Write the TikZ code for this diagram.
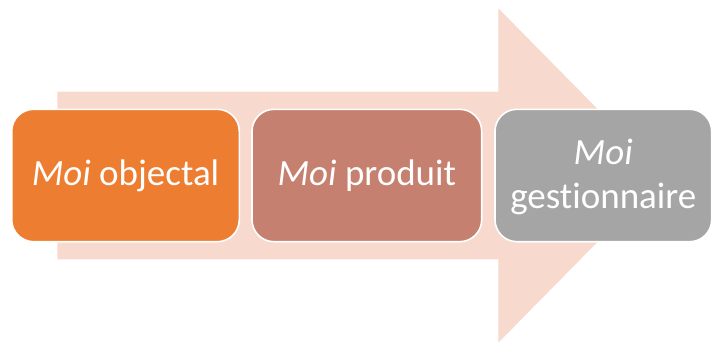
\documentclass[tikz,border=0pt]{standalone}
\usepackage{fontspec}
\setmainfont{Carlito}[Ligatures={NoCommon,NoRare}]
\definecolor{arrowfill}{HTML}{F8D9CE}
\definecolor{orangebox}{HTML}{ED7D31}
\definecolor{brownbox}{HTML}{C5806F}
\definecolor{greybox}{HTML}{A5A5A5}
\tikzset{
  stagebox/.style={draw=white, line width=1.6pt, rounded corners=22pt, text=white,
    font=\fontsize{37}{44}\selectfont, align=center, inner sep=0pt},
}
\begin{document}
\begin{tikzpicture}[x=1pt,y=-1pt]
\useasboundingbox (0,0) rectangle (713,343);
\fill[arrowfill] (57.3,91.7) -- (498.3,91.7) -- (498.3,8.3) -- (663,175.5) -- (498.3,342.7) -- (498.3,259.3) -- (57.3,259.3) -- cycle;
\path[stagebox, fill=orangebox] (11.7,109.3) rectangle (239.3,241.7);
\path[stagebox, fill=brownbox] (252,109.3) rectangle (481.7,241.7);
\path[stagebox, fill=greybox] (495,109.3) rectangle (711.7,241.7);
\node[stagebox, draw=none, fill=none] (a) at (125.5,175.5) {\textit{Moi} objectal};
\node[stagebox, draw=none, fill=none] (b) at (366.8,175.5) {\textit{Moi} produit};
\node[stagebox, draw=none, fill=none] (c) at (603.3,177) {\textit{Moi}\\gestionnaire};
\end{tikzpicture}
\end{document}
